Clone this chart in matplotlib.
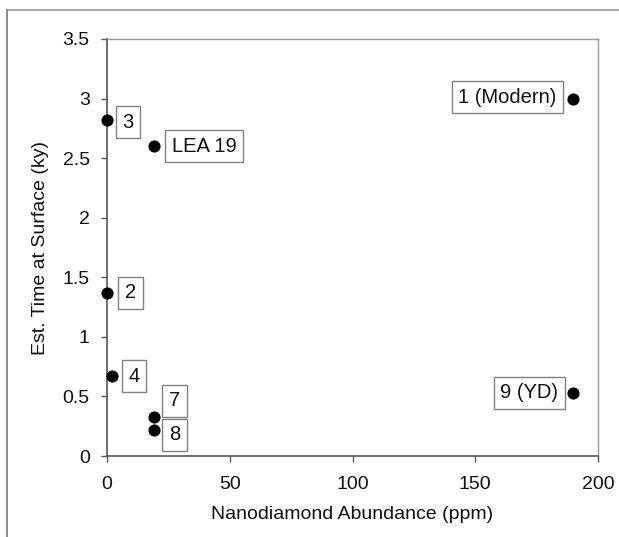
import matplotlib
matplotlib.use("Agg")
import matplotlib.pyplot as plt
from matplotlib.lines import Line2D

plt.rcParams['font.family'] = ['Liberation Sans', 'DejaVu Sans']

# nanodiamond abundance (ppm) vs est. time at surface (ky)
labels = ["1 (Modern)", "9 (YD)", "3", "LEA 19", "2", "4", "7", "8"]
abundance = [190, 190, 0, 19, 0, 2.2, 19, 19]
time_ky = [3.0, 0.53, 2.82, 2.60, 1.37, 0.67, 0.33, 0.22]
# label offsets in points (dx, dy) and alignment
offsets = [(-12, 1), (-11, 0), (11, -1.5), (13, 0), (13, 0), (11.5, 0), (11, 11.5), (11, -3.6)]
aligns = ["right", "right", "left", "left", "left", "left", "left", "left"]

fig = plt.figure(figsize=(6.19, 5.37), dpi=100)
ax = fig.add_axes([0.1729, 0.1508, 0.7932, 0.7766])

ax.scatter(abundance, time_ky, s=60, color="black", zorder=3, clip_on=False)

for lab, x, y, off, ha in zip(labels, abundance, time_ky, offsets, aligns):
    ax.annotate(lab, (x, y), xytext=off, textcoords="offset points",
                ha=ha, va="center", fontsize=14.5, color="#111111",
                bbox=dict(boxstyle="square,pad=0.33", fc="white",
                          ec="#808080", lw=1.0))

ax.set_xlim(0, 200)
ax.set_ylim(0, 3.5)
ax.set_xticks([0, 50, 100, 150, 200])
ax.set_xticklabels(["0", "50", "100", "150", "200"])
ax.set_yticks([0, 0.5, 1, 1.5, 2, 2.5, 3, 3.5])
ax.set_yticklabels(["0", "0.5", "1", "1.5", "2", "2.5", "3", "3.5"])
ax.tick_params(direction="out", length=4.5, width=1, color="#555555",
               labelsize=14, labelcolor="#111111", pad=8)
ax.tick_params(axis="x", pad=10)

for side in ["left", "bottom"]:
    ax.spines[side].set_color("#555555")
    ax.spines[side].set_linewidth(1.2)
for side in ["top", "right"]:
    ax.spines[side].set_color("#999999")
    ax.spines[side].set_linewidth(1.0)

ax.set_xlabel("Nanodiamond Abundance (ppm)", fontsize=14, color="#111111", labelpad=9)
ax.set_ylabel("Est. Time at Surface (ky)", fontsize=14, color="#111111", labelpad=10)

# outer frame (top and left only)
fig.add_artist(Line2D([7 / 619, 1], [1 - 10 / 537, 1 - 10 / 537],
                      transform=fig.transFigure, color="#999999", lw=1.2))
fig.add_artist(Line2D([7 / 619, 7 / 619], [0, 1 - 10 / 537],
                      transform=fig.transFigure, color="#777777", lw=1.2))

fig.savefig("out.png", dpi=100)
